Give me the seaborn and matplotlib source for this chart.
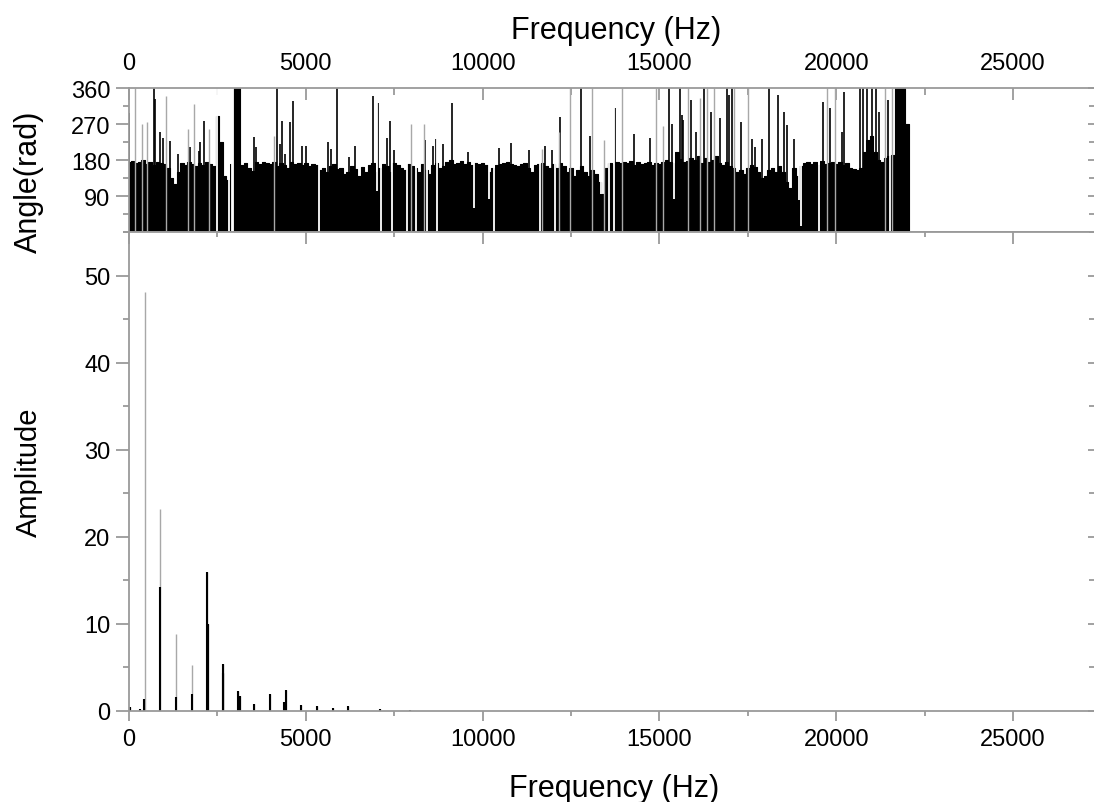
import numpy as np
import pandas as pd
import matplotlib
matplotlib.use("Agg")
import matplotlib.pyplot as plt
from matplotlib.ticker import MultipleLocator, FixedLocator, NullFormatter
import seaborn as sns

# ---------------- data ----------------
# phase spectrum: body level in 100 Hz bins (0 ... 22000 Hz)
angle_bin_freq = list(range(0, 22001, 100))
angle_body = [
    175, 178, 172, 176, 180, 170, 174, 168, 176, 172,
    170, 160, 135, 120, 150, 172, 168, 175, 170, 166,
    172, 168, 176, 170, 166, 290, 224, 141, 130, 170,
    360, 360, 168, 172, 160, 152, 175, 170, 176, 172,
    170, 174, 165, 172, 168, 160, 176, 170, 172, 168,
    172, 165, 170, 168, 155, 160, 150, 165, 170, 158,
    160, 145, 150, 165, 158, 140, 162, 150, 168, 172,
    150, 160, 170, 166, 150, 172, 168, 160, 155, 170,
    165, 160, 150, 170, 155, 145, 168, 172, 160, 165,
    175, 180, 170, 172, 178, 170, 176, 168, 172, 170,
    172, 168, 150, 160, 168, 170, 172, 176, 170, 168,
    165, 170, 172, 160, 150, 168, 170, 172, 165, 160,
    170, 160, 172, 165, 150, 160, 140, 155, 165, 150,
    140, 155, 145, 125, 95, 160, 172, 170, 175, 172,
    176, 172, 178, 168, 175, 170, 172, 176, 168, 172,
    170, 176, 180, 175, 172, 200, 182, 176, 178, 185,
    180, 190, 172, 185, 176, 180, 190, 172, 168, 175,
    165, 160, 150, 155, 145, 160, 168, 162, 150, 135,
    140, 155, 160, 150, 165, 150, 125, 110, 160, 140,
    165, 172, 175, 170, 176, 168, 178, 170, 172, 175,
    170, 176, 168, 172, 160, 158, 155, 160, 200, 230,
    240, 200, 180, 176, 185, 190, 192, 360, 360, 360,
    270,
]

# single-bin spikes above the body (dark)
spike_dark_freq = [10, 699, 746, 887, 962, 1150, 1376, 1734, 1970, 2017, 2130,
                   3543, 3600, 4185, 4260, 4326, 4420, 4543, 4628, 4892, 5014,
                   5627, 5721, 5875, 6211, 6400, 6910, 7042, 7287, 7371, 7500,
                   8380, 8590, 8690, 8890, 9140, 9600, 10450, 10815, 11310, 11770,
                   11970, 12200, 12790, 13027, 13745, 14270, 14720, 15285, 15350,
                   15590, 15640, 15680, 15900, 16040, 16255, 16455, 16700, 16910,
                   16960, 17060, 17310, 17610, 17710, 17910, 18110, 18360, 18510,
                   18610, 18810, 19620, 19820, 20170, 20220, 20670, 20770, 20870,
                   21020, 21120, 21220, 21470]
spike_dark_val = [297, 360, 332, 250, 236, 228, 195, 212, 203, 224, 278,
                  237, 212, 360, 220, 278, 195, 274, 328, 215, 215,
                  224, 208, 360, 187, 216, 340, 323, 234, 277, 204,
                  230, 215, 233, 220, 322, 200, 210, 223, 205, 215,
                  205, 288, 360, 240, 310, 246, 234, 360, 270,
                  360, 292, 280, 330, 250, 360, 300, 285, 360,
                  343, 360, 275, 233, 212, 233, 360, 343, 300,
                  267, 233, 326, 310, 250, 351, 360, 360, 360,
                  360, 360, 300, 330]

# single-bin spikes drawn light (thin, anti-aliased)
spike_light_freq = [181, 370, 510, 1056, 1659, 1847, 2252, 4090, 7980, 8340,
                    11690, 12150, 12470, 13090, 13440, 13940, 14910, 15100,
                    15800, 16150, 16355, 16555, 17110, 17510, 19740, 19970,
                    21370, 21570]
spike_light_val = [360, 270, 274, 340, 257, 320, 257, 241, 271, 269,
                   208, 250, 360, 360, 230, 360, 360, 265,
                   360, 335, 360, 360, 360, 360, 360, 360,
                   360, 360]

# single-bin dips below the body
dip_freq = [2488, 2817, 2920, 2940, 5362, 7023, 7117, 7447, 7870, 8105, 8435,
            8717, 9752, 10175, 10316, 11634, 12058, 13356, 13563, 13704,
            15400, 18960, 19010, 19520, 21520]
dip_val = [0, 0, 0, 0, 0, 103, 0, 0, 0, 0, 0,
           0, 61, 82, 0, 0, 0, 94, 0, 0,
           82, 80, 15, 0, 0]

# amplitude spectrum: harmonic peaks (light tip, dark core)
peak_freq = [40, 300, 420, 443, 886, 1329, 1772, 2215, 2232, 2658, 2645,
             3080, 3130, 3544, 3987, 4380, 4430, 4873, 5316, 5759, 6202, 7100, 7950]
peak_tip = [0.5, 0.2, 1.4, 48.2, 23.2, 8.8, 5.3, 16.0, 10.0, 5.4, 4.4,
            2.3, 1.7, 0.8, 1.9, 1.0, 2.4, 0.65, 0.6, 0.3, 0.6, 0.2, 0.1]
peak_core = [0.5, 0.2, 1.4, 0.0, 14.2, 1.6, 1.9, 16.0, 10.0, 5.4, 4.4,
             2.3, 1.7, 0.8, 1.9, 1.0, 2.4, 0.65, 0.6, 0.3, 0.6, 0.2, 0.1]

x_ticks = [0, 5000, 10000, 15000, 20000, 25000]
angle_ticks = [90, 180, 270, 360]
angle_minor = [0, 45, 135, 225, 315]
amp_ticks = [0, 10, 20, 30, 40, 50]

# ---------------- style ----------------
sns.set_style("ticks")
plt.rcParams["font.family"] = ["Liberation Sans", "DejaVu Sans"]
plt.rcParams["text.color"] = "black"
plt.rcParams["xtick.labelcolor"] = "black"
plt.rcParams["ytick.labelcolor"] = "black"
GREY = "#9a9a9a"
LIGHT = "#a8a8a8"
W, H = 1094, 803
TW = 1.3

fig = plt.figure(figsize=(W / 100, H / 100), dpi=100)
ax1 = fig.add_axes([129 / W, 1 - 233 / H, 965 / W, 144 / H])
ax2 = fig.add_axes([129 / W, 1 - 712 / H, 965 / W, 479 / H])

XMAX = 27290

# ---- top: phase ----
phase_df = pd.DataFrame({"freq": angle_bin_freq, "angle": angle_body})
sns.histplot(data=phase_df, x="freq", weights="angle",
             binwidth=100, binrange=(-50, 22050), element="step", fill=True,
             color="black", alpha=1, edgecolor="black", linewidth=0.8, ax=ax1)
ax1.vlines(spike_dark_freq, 0, spike_dark_val, colors="black", lw=1.2)
ax1.vlines(spike_light_freq, 0, spike_light_val, colors=LIGHT, lw=1.0)
ax1.vlines(dip_freq, dip_val, 360, colors="white", lw=1.3)
ax1.set_xlim(0, XMAX)
ax1.set_ylim(0, 360)
ax1.set_xlabel("")
ax1.set_ylabel("")

# ---- bottom: amplitude ----
ax2.vlines(peak_freq, 0, peak_tip, colors=LIGHT, lw=1.0)
ax2.vlines(peak_freq, 0, peak_core, colors="black", lw=1.5)
ax2.set_xlim(0, XMAX)
ax2.set_ylim(0, 55.05)

for ax in (ax1, ax2):
    for s in ax.spines.values():
        s.set_color(GREY)
        s.set_linewidth(TW)
        s.set_zorder(5)
    ax.spines["right"].set_visible(False)
    ax.xaxis.set_major_locator(FixedLocator(x_ticks))
    ax.xaxis.set_minor_locator(MultipleLocator(2500))

# top axes ticks
ax1.yaxis.set_major_locator(FixedLocator(angle_ticks))
ax1.yaxis.set_minor_locator(FixedLocator(angle_minor))
ax1.tick_params(axis="x", which="both", top=True, bottom=False,
                labeltop=True, labelbottom=False, direction="in",
                color=GREY, width=TW, labelsize=17, pad=10, labelcolor="black")
ax1.tick_params(axis="x", which="major", length=12 * 0.72)
ax1.tick_params(axis="x", which="minor", length=7 * 0.72)
ax1.tick_params(axis="y", which="both", left=True, right=False, direction="out",
                color=GREY, width=TW, labelsize=17, pad=4, labelcolor="black")
ax1.tick_params(axis="y", which="major", length=13 * 0.72)
ax1.tick_params(axis="y", which="minor", length=6 * 0.72)

# bottom axes ticks
ax2.yaxis.set_major_locator(FixedLocator(amp_ticks))
ax2.yaxis.set_minor_locator(MultipleLocator(5))
ax2.tick_params(axis="x", which="both", bottom=True, top=False, direction="out",
                color=GREY, width=TW, labelsize=17, pad=5, labelcolor="black")
ax2.tick_params(axis="x", which="major", length=10 * 0.72)
ax2.tick_params(axis="x", which="minor", length=5 * 0.72)
ax2.tick_params(axis="y", which="both", left=True, right=False, direction="out",
                color=GREY, width=TW, labelsize=17, pad=4, labelcolor="black")
ax2.tick_params(axis="y", which="major", length=13 * 0.72)
ax2.tick_params(axis="y", which="minor", length=6 * 0.72)

# inward ticks on right sides and top of lower panel
for ax, maj, mnr in ((ax1, angle_ticks, angle_minor), (ax2, amp_ticks, None)):
    sec = ax.secondary_yaxis("right")
    sec.yaxis.set_major_locator(FixedLocator(maj))
    if mnr is None:
        sec.yaxis.set_minor_locator(MultipleLocator(5))
    else:
        sec.yaxis.set_minor_locator(FixedLocator(mnr))
    sec.yaxis.set_major_formatter(NullFormatter())
    sec.spines["right"].set_visible(False)
    sec.tick_params(which="both", direction="in", color=GREY, width=TW)
    sec.tick_params(which="major", length=6 * 0.72)
    sec.tick_params(which="minor", length=5 * 0.72)

secx = ax2.secondary_xaxis("top")
secx.xaxis.set_major_locator(FixedLocator(x_ticks))
secx.xaxis.set_minor_locator(MultipleLocator(2500))
secx.xaxis.set_major_formatter(NullFormatter())
secx.spines["top"].set_visible(False)
secx.tick_params(which="both", direction="in", color=GREY, width=TW)
secx.tick_params(which="major", length=12 * 0.72)
secx.tick_params(which="minor", length=5 * 0.72)

# axis titles
fig.text(616 / W, 1 - 31 / H, "Frequency (Hz)", ha="center", va="center", fontsize=22, color="black")
fig.text(614 / W, 1 - 789 / H, "Frequency (Hz)", ha="center", va="center", fontsize=22, color="black")
fig.text(29 / W, 1 - 182 / H, "Angle(rad)", ha="center", va="center", rotation=90, fontsize=22, color="black")
fig.text(29 / W, 1 - 472 / H, "Amplitude", ha="center", va="center", rotation=90, fontsize=21, color="black")

fig.savefig("out.png", dpi=100)
